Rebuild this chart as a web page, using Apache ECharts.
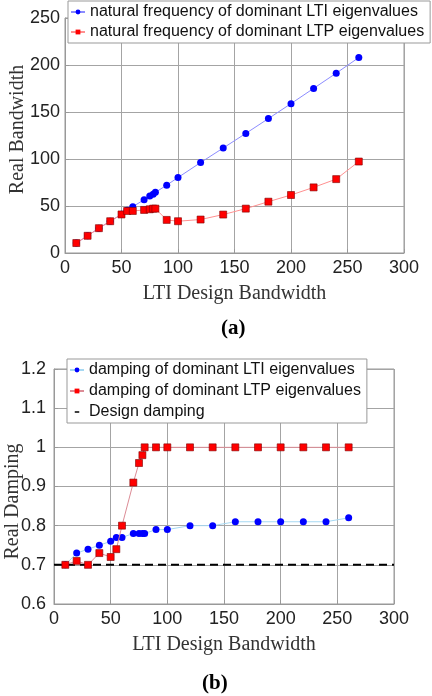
<!DOCTYPE html>
<html>
<head>
<meta charset="utf-8">
<script src="https://cdn.jsdelivr.net/npm/echarts@6/dist/echarts.min.js"></script>
<style>
  html, body { margin: 0; padding: 0; background: #fff; }
  #main { width: 432px; height: 696px; }
</style>
</head>
<body>
<div id="main"></div>
<script>
// design bandwidth (x) for both panels
var bandwidth = [10, 20, 30, 40, 50, 55, 60, 70, 75, 78, 80, 90, 100, 120, 140, 160, 180, 200, 220, 240, 260];
// panel (a): natural frequency
var freqLTI = [10.6, 18.3, 26.4, 33.8, 41.2, 45.5, 49.3, 56.7, 60.6, 62.4, 64.5, 72.2, 80.3, 96.2, 111.7, 127.2, 143, 158.9, 175.1, 191.3, 207.9];
var freqLTP = [10.6, 18.3, 26.4, 33.8, 41, 44.7, 44.7, 45.8, 46.5, 47.2, 47.2, 35.2, 33.8, 35.6, 40.9, 47.2, 54.6, 61.7, 69.8, 78.6, 97.3];
// panel (b): damping
var dampLTI = [0.70, 0.73, 0.74, 0.75, 0.76, 0.77, 0.77, 0.78, 0.78, 0.78, 0.78, 0.79, 0.79, 0.80, 0.80, 0.81, 0.81, 0.81, 0.81, 0.81, 0.82];
var dampLTP = [0.70, 0.71, 0.70, 0.73, 0.72, 0.74, 0.80, 0.91, 0.96, 0.98, 1.00, 1.00, 1.00, 1.00, 1.00, 1.00, 1.00, 1.00, 1.00, 1.00, 1.00];
var designDamping = [[0, 0.7], [300, 0.7]];

function pairs(xs, ys) {
  return xs.map(function (x, i) { return [x, ys[i]]; });
}

var sans = 'Liberation Sans';
var serif = 'Liberation Serif';
// short dash used as legend icon for the dashed design line
var dashIcon = 'path://M0,0L0,0M14,8L14,8M4,3L10,3L10,5L4,5Z';

function xAxisCfg(gridIndex) {
  return {
    gridIndex: gridIndex, type: 'value', min: 0, max: 300, interval: 50,
    name: 'LTI Design Bandwidth', nameLocation: 'middle', nameGap: 31,
    nameTextStyle: { fontFamily: serif, fontSize: 20, color: '#333' },
    axisLine: { show: true, lineStyle: { color: '#999' } },
    axisTick: { show: true, inside: true, length: 4, lineStyle: { color: '#999' } },
    axisLabel: { fontFamily: sans, fontSize: 18, color: '#222', margin: 6 },
    splitLine: { show: true, lineStyle: { color: '#a4a4a4', width: 1 } }
  };
}

var chart = echarts.init(document.getElementById('main'));
chart.setOption({
  animation: false,
  backgroundColor: '#fff',
  grid: [
    { left: 65, right: 28, top: 18, bottom: 443, outerBoundsMode: 'none', show: true, borderColor: '#999', borderWidth: 1 },
    { left: 54, right: 38, top: 369, bottom: 92, outerBoundsMode: 'none', show: true, borderColor: '#999', borderWidth: 1 }
  ],
  xAxis: [xAxisCfg(0), xAxisCfg(1)],
  yAxis: [
    {
      gridIndex: 0, type: 'value', min: 0, max: 250, interval: 50,
      name: 'Real Bandwidth', nameLocation: 'middle', nameGap: 37, nameMoveOverlap: false,
      nameTextStyle: { fontFamily: serif, fontSize: 20, color: '#333', padding: [0, 0, 0, 12] },
      axisLine: { show: true, lineStyle: { color: '#999' } },
      axisTick: { show: true, inside: true, length: 4, lineStyle: { color: '#999' } },
      axisLabel: { fontFamily: sans, fontSize: 18, color: '#222', margin: 5 },
      splitLine: { show: true, lineStyle: { color: '#a4a4a4', width: 1 } }
    },
    {
      gridIndex: 1, type: 'value', min: 0.6, max: 1.2, interval: 0.1,
      name: 'Real Damping', nameLocation: 'middle', nameGap: 31, nameMoveOverlap: false,
      nameTextStyle: { fontFamily: serif, fontSize: 20, color: '#333', padding: [0, 30, 0, 0] },
      axisLine: { show: true, lineStyle: { color: '#999' } },
      axisTick: { show: true, inside: true, length: 4, lineStyle: { color: '#999' } },
      axisLabel: {
        fontFamily: sans, fontSize: 18, color: '#222', margin: 8,
        formatter: function (v) { return String(Math.round(v * 10) / 10); }
      },
      splitLine: { show: true, lineStyle: { color: '#a4a4a4', width: 1 } }
    }
  ],
  legend: [
    {
      orient: 'vertical', left: 68, top: 1,
      data: ['natural frequency of dominant LTI eigenvalues', 'natural frequency of dominant LTP eigenvalues'],
      backgroundColor: '#fff', borderColor: '#999', borderWidth: 1, borderRadius: 0,
      padding: [2, 6, 2, 2], itemGap: 2, itemWidth: 14, itemHeight: 6,
      itemStyle: { borderWidth: 0 },
      textStyle: { fontFamily: sans, fontSize: 16, color: '#111', lineHeight: 18 }
    },
    {
      orient: 'vertical', left: 67, top: 359,
      data: [
        'damping of dominant LTI eigenvalues',
        'damping of dominant LTP eigenvalues',
        { name: 'Design damping', icon: dashIcon }
      ],
      backgroundColor: '#fff', borderColor: '#999', borderWidth: 1, borderRadius: 0,
      padding: [2, 6, 2, 2], itemGap: 3, itemWidth: 14, itemHeight: 6,
      itemStyle: { borderWidth: 0 },
      textStyle: { fontFamily: sans, fontSize: 16, color: '#111', lineHeight: 18 }
    }
  ],
  graphic: [
    { type: 'text', left: 221, top: 318, style: { text: '(a)', font: 'bold 21px "Liberation Serif"', fill: '#000' } },
    { type: 'text', left: 202, top: 673, style: { text: '(b)', font: 'bold 21px "Liberation Serif"', fill: '#000' } }
  ],
  series: [
    {
      name: 'natural frequency of dominant LTI eigenvalues', type: 'line',
      xAxisIndex: 0, yAxisIndex: 0, data: pairs(bandwidth, freqLTI),
      symbol: 'circle', symbolSize: 7,
      itemStyle: { color: '#0000ff' },
      lineStyle: { color: '#8c8cff', width: 1 }, z: 3
    },
    {
      name: 'natural frequency of dominant LTP eigenvalues', type: 'line',
      xAxisIndex: 0, yAxisIndex: 0, data: pairs(bandwidth, freqLTP),
      symbol: 'rect', symbolSize: 7,
      itemStyle: { color: '#ff0000', borderColor: '#800000', borderWidth: 0.6 },
      lineStyle: { color: '#ff9090', width: 1 }, z: 4
    },
    {
      name: 'damping of dominant LTI eigenvalues', type: 'line',
      xAxisIndex: 1, yAxisIndex: 1, data: pairs(bandwidth, dampLTI),
      symbol: 'circle', symbolSize: 7,
      itemStyle: { color: '#0000ff' },
      lineStyle: { color: '#a6d8f2', width: 1 }, z: 3
    },
    {
      name: 'damping of dominant LTP eigenvalues', type: 'line',
      xAxisIndex: 1, yAxisIndex: 1, data: pairs(bandwidth, dampLTP),
      symbol: 'rect', symbolSize: 7,
      itemStyle: { color: '#ff0000', borderColor: '#800000', borderWidth: 0.6 },
      lineStyle: { color: '#dc8c96', width: 1 }, z: 4
    },
    {
      name: 'Design damping', type: 'line',
      xAxisIndex: 1, yAxisIndex: 1, data: designDamping,
      symbol: 'none',
      itemStyle: { color: '#000' },
      lineStyle: { color: '#000', width: 2, type: [8, 5] }, z: 2
    }
  ]
});
</script>
</body>
</html>
